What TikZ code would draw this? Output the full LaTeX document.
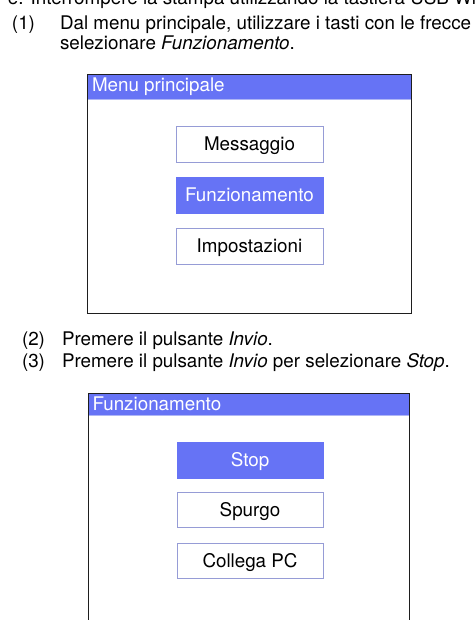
\documentclass[tikz,border=0pt]{standalone}
\usepackage{fontspec}
\setmainfont{TeX Gyre Heros}
\definecolor{barblue}{RGB}{102,115,245}
\definecolor{barline}{RGB}{175,182,245}
\definecolor{btnborder}{RGB}{150,156,214}
\definecolor{framecol}{RGB}{30,30,30}
\begin{document}
\begin{tikzpicture}[x=1pt,y=-1pt,
  font=\fontsize{18.8}{20}\selectfont,
  txt/.style={anchor=base west, inner sep=0pt, outer sep=0pt},
  btn/.style={draw=btnborder, line width=0.8pt, fill=white, minimum width=147pt,
    minimum height=36pt, inner sep=0pt, text height=13.5pt, text depth=0pt},
  btnsel/.style={btn, draw=barblue, fill=barblue, text=white},
  bar/.style={fill=barblue, draw=none},
  screen/.style={draw=framecol, line width=1pt}]
\useasboundingbox (0,0) rectangle (475,620);
\clip (0,0) rectangle (475,620);

% clipped top line
\node[txt] (top) at (8,4.5) {e. Interrompere la stampa utilizzando la tastiera USB Wire};

% step 1
\node[txt] (n1) at (12,30) {(1)};
\node[txt] (t1a) at (60,30) {Dal menu principale, utilizzare i tasti con le frecce};
\node[txt] (t1b) at (60,50) {selezionare \textit{Funzionamento}.};

% screen 1
\fill[bar] (87,75) rectangle (411,99);
\draw[barline, line width=0.8pt] (87.5,99) -- (410.5,99);
\draw[screen] (87,75) rectangle (411,313);
\node[txt, text=white] (title1) at (92,92) {Menu principale};
\node[btn] (b11) at (249.5,144) {Messaggio};
\node[btnsel] (b12) at (249.5,195) {Funzionamento};
\node[btn] (b13) at (249.5,246) {Impostazioni};

% steps 2 and 3
\node[txt] (n2) at (22,345) {(2)};
\node[txt] (t2) at (62,345) {Premere il pulsante \textit{Invio}.};
\node[txt] (n3) at (22,367) {(3)};
\node[txt] (t3) at (62,367) {Premere il pulsante \textit{Invio} per selezionare \textit{Stop}.};

% screen 2
\fill[bar] (88,393) rectangle (409,415);
\draw[barline, line width=0.8pt] (88.5,415) -- (408.5,415);
\draw[screen] (88,625) -- (88,393) -- (409,393) -- (409,625);
\node[txt, text=white] (title2) at (92.5,410.5) {Funzionamento};
\node[btnsel, minimum width=146pt] (b21) at (250,460) {Stop};
\node[btn, minimum width=146pt, minimum height=35pt] (b22) at (250,509.5) {Spurgo};
\node[btn, minimum width=146pt, minimum height=35pt] (b23) at (250,560.5) {Collega PC};
\end{tikzpicture}
\end{document}
